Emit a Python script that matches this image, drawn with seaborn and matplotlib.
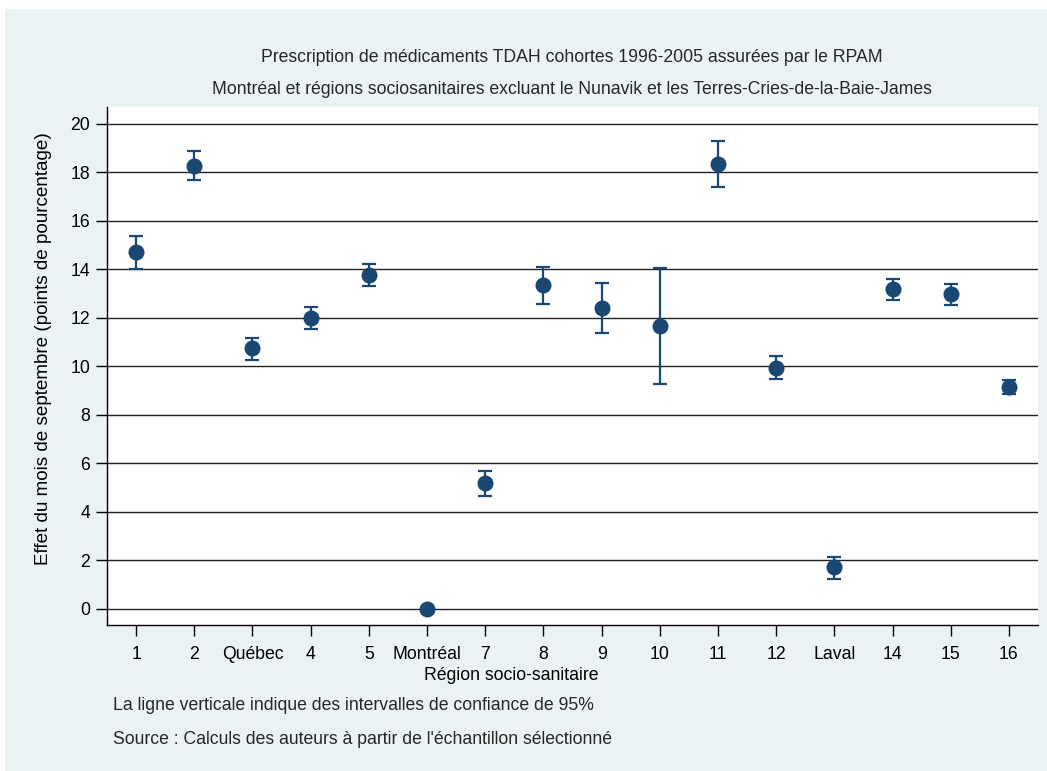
import numpy as np
import pandas as pd
import seaborn as sns
import matplotlib.pyplot as plt
from matplotlib.patches import Rectangle

# Estimations par région socio-sanitaire
regions = ["1", "2", "Québec", "4", "5", "Montréal", "7", "8", "9", "10",
           "11", "12", "Laval", "14", "15", "16"]
effet = [14.71, 18.27, 10.75, 12.00, 13.79, 0.0, 5.18, 13.35, 12.43, 11.67,
         18.35, 9.95, 1.72, 13.18, 12.97, 9.14]
ic_bas = [14.03, 17.68, 10.28, 11.56, 13.33, np.nan, 4.67, 12.59, 11.40, 9.27,
          17.39, 9.47, 1.25, 12.74, 12.54, 8.85]
ic_haut = [15.38, 18.87, 11.18, 12.44, 14.23, np.nan, 5.67, 14.12, 13.46, 14.07,
           19.31, 10.43, 2.16, 13.62, 13.40, 9.46]
y_ticks = list(range(0, 21, 2))

titre1 = "Prescription de médicaments TDAH cohortes 1996-2005 assurées par le RPAM"
titre2 = "Montréal et régions sociosanitaires excluant le Nunavik et les Terres-Cries-de-la-Baie-James"
note1 = "La ligne verticale indique des intervalles de confiance de 95%"
note2 = "Source : Calculs des auteurs à partir de l'échantillon sélectionné"

df = pd.DataFrame({"region": regions, "effet": effet, "bas": ic_bas, "haut": ic_haut})

sns.set_style("white")
plt.rcParams["font.family"] = ["Liberation Sans", "DejaVu Sans"]
bleu = "#1a4872"
fond = "#eaf2f3"
fs = 12.7

fig = plt.figure(figsize=(10.47, 7.71), dpi=100)
fig.patch.set_facecolor("white")
fig.add_artist(Rectangle((5 / 1047, 0), 1 - 5 / 1047, 1 - 9 / 771,
                         transform=fig.transFigure, facecolor=fond,
                         edgecolor="none", zorder=-10))
ax = fig.add_axes([107 / 1047, 1 - 625 / 771, 931 / 1047, 518 / 771])
ax.set_facecolor("white")

pos = np.arange(len(df))
ax.errorbar(pos, df["effet"], yerr=[df["effet"] - df["bas"], df["haut"] - df["effet"]],
            fmt="none", ecolor=bleu, elinewidth=1.6, capsize=4.8, capthick=1.6, zorder=3)
sns.pointplot(data=df, x="region", y="effet", order=regions, errorbar=None,
              linestyle="none", color=bleu, markersize=9.5, ax=ax, zorder=4)

ax.set_xlim(-0.5, 15.5)
ax.set_ylim(-0.66, 20.7)
ax.set_yticks(y_ticks)
for v in y_ticks:
    ax.axhline(v, color="#222222", linewidth=1.0, zorder=1)

for s in ["top", "right"]:
    ax.spines[s].set_visible(False)
for s in ["left", "bottom"]:
    ax.spines[s].set_color("black")
    ax.spines[s].set_linewidth(1.0)

ax.tick_params(axis="both", which="major", direction="out", length=8, width=1,
               color="black", labelsize=fs, labelcolor="black", pad=4)
ax.tick_params(axis="x", bottom=True, pad=7)
ax.tick_params(axis="y", left=True)

ax.set_xlabel("Région socio-sanitaire", fontsize=fs, color="black")
ax.xaxis.set_label_coords(0.434, -0.081)
ax.set_ylabel("Effet du mois de septembre (points de pourcentage)", fontsize=13.6, color="black")
ax.yaxis.set_label_coords(-0.059, 0.533)

fig.text(572 / 1047, 1 - 57 / 771, titre1, ha="center", va="center", fontsize=fs)
fig.text(572 / 1047, 1 - 90 / 771, titre2, ha="center", va="center", fontsize=fs)
fig.text(113 / 1047, 1 - 706 / 771, note1, ha="left", va="center", fontsize=fs)
fig.text(113 / 1047, 1 - 740 / 771, note2, ha="left", va="center", fontsize=fs)

fig.savefig("out.png", dpi=100, facecolor=fig.get_facecolor())
